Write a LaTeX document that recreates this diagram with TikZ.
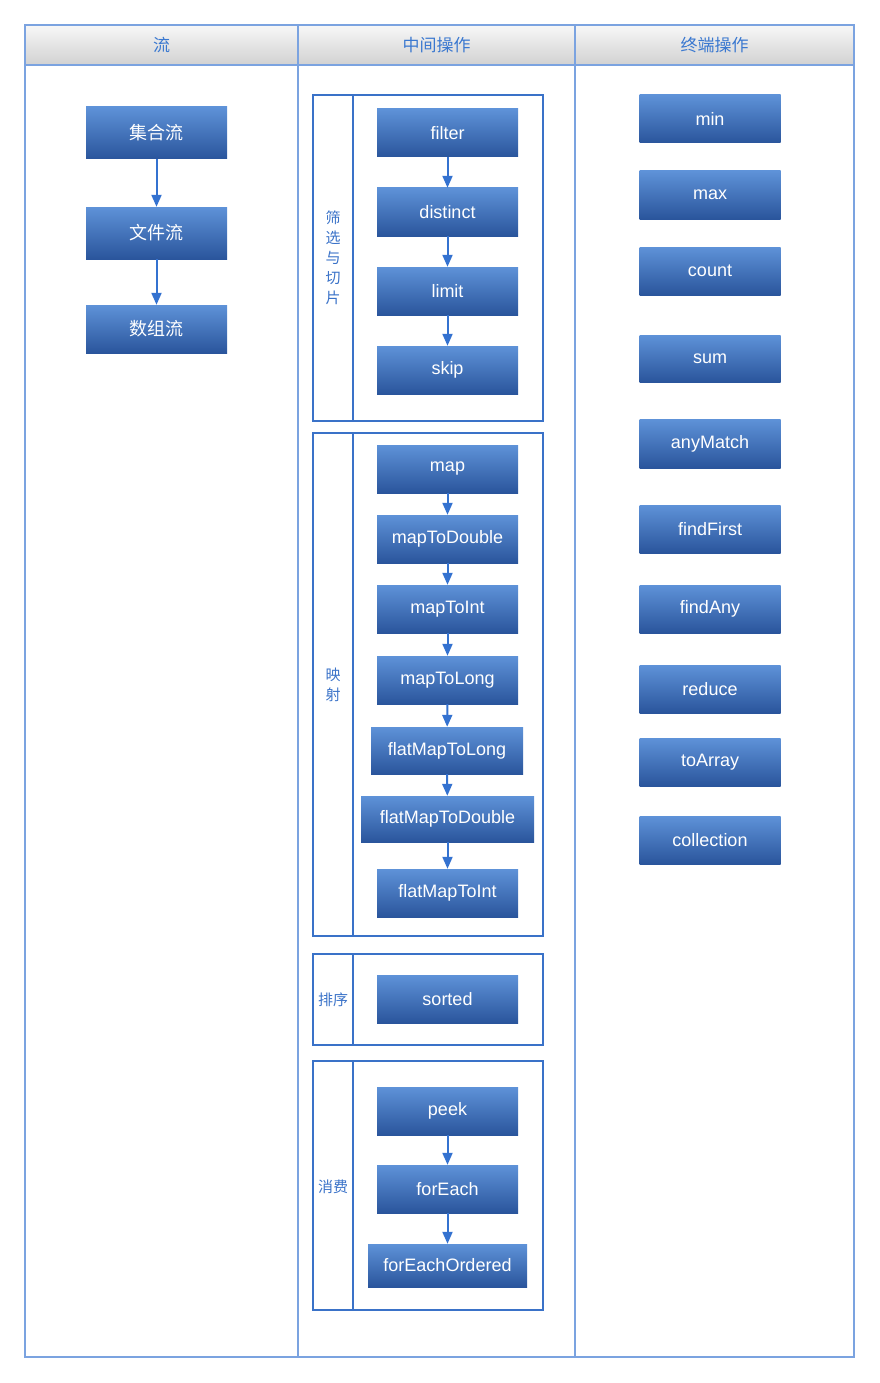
\documentclass[tikz,border=0pt]{standalone}
\usepackage{fontspec}
\setmainfont{Liberation Sans}
\newfontfamily\cjk{Noto Sans CJK SC}
\usetikzlibrary{arrows.meta}
\definecolor{lane}{HTML}{7BA3E0}
\definecolor{grp}{HTML}{3A72C8}
\definecolor{ntop}{HTML}{5E92D8}
\definecolor{nbot}{HTML}{2A559C}
\definecolor{htxt}{HTML}{3A78D0}
\definecolor{arr}{HTML}{3472D0}
\tikzset{
  proc/.style={top color=ntop, bottom color=nbot, text=white, inner sep=0pt,
    minimum width=141pt, minimum height=48pt, font=\fontsize{18}{21}\selectfont},
  hdr/.style={top color=white!97!black, bottom color=white!82!black, draw=lane, line width=1.6pt},
  hdrtxt/.style={text=htxt, font=\cjk\fontsize{17}{19}\selectfont},
  grpbox/.style={draw=grp, line width=2pt},
  glabel/.style={text=grp, font=\cjk\fontsize{15}{20}\selectfont, align=center, inner sep=0pt},
  flow/.style={draw=arr, line width=2pt, -{Triangle[length=12pt,width=10pt]}},
}
\begin{document}
\begin{tikzpicture}[x=1pt,y=-1pt]
\useasboundingbox (0,0) rectangle (879,1383);
% lanes
\draw[draw=lane, line width=1.6pt] (25,25) rectangle (854,1357);
\draw[hdr] (25,25) rectangle (298,65);
\draw[hdr] (298,25) rectangle (575,65);
\draw[hdr] (575,25) rectangle (854,65);
\draw[draw=lane, line width=1.6pt] (298,65) -- (298,1357);
\draw[draw=lane, line width=1.6pt] (575,65) -- (575,1357);
\node[hdrtxt] (h1) at (161.5,45) {流};
\node[hdrtxt] (h2) at (436.5,45) {中间操作};
\node[hdrtxt] (h3) at (714.5,45) {终端操作};

% column 1
\node[proc, minimum height=52pt] (s1) at (156.5,133) {\cjk 集合流};
\node[proc, minimum height=52pt] (s2) at (156.5,233) {\cjk 文件流};
\node[proc] (s3) at (156.5,329) {\cjk 数组流};
\draw[flow] (s1) -- (s2);
\draw[flow] (s2) -- (s3);

% group boxes
\draw[grpbox] (313,95) rectangle (543,421);
\draw[grpbox] (353,95) -- (353,421);
\draw[grpbox] (313,433) rectangle (543,936);
\draw[grpbox] (353,433) -- (353,936);
\draw[grpbox] (313,954) rectangle (543,1045);
\draw[grpbox] (353,954) -- (353,1045);
\draw[grpbox] (313,1061) rectangle (543,1310);
\draw[grpbox] (353,1061) -- (353,1310);
\node[glabel] (g1) at (333,258) {筛\\选\\与\\切\\片};
\node[glabel] (g2) at (333,685) {映\\射};
\node[glabel] (g3) at (333,1000) {排序};
\node[glabel] (g4) at (333,1187) {消费};

% group 1
\node[proc] (f1) at (447.5,133) {filter};
\node[proc] (f2) at (447.5,212) {distinct};
\node[proc] (f3) at (447.5,291) {limit};
\node[proc] (f4) at (447.5,370) {skip};
\draw[flow] (f1) -- (f2);
\draw[flow] (f2) -- (f3);
\draw[flow] (f3) -- (f4);

% group 2
\node[proc] (m1) at (447.5,469) {map};
\node[proc] (m2) at (447.5,539) {mapToDouble};
\node[proc] (m3) at (447.5,609) {mapToInt};
\node[proc] (m4) at (447.5,680) {mapToLong};
\node[proc, minimum width=152pt, minimum height=47pt] (m5) at (447,750.5) {flatMapToLong};
\node[proc, minimum width=173pt, minimum height=46pt] (m6) at (447.5,819) {flatMapToDouble};
\node[proc] (m7) at (447.5,893) {flatMapToInt};
\draw[flow] (m1) -- (m2);
\draw[flow] (m2) -- (m3);
\draw[flow] (m3) -- (m4);
\draw[flow] (m4) -- (m5);
\draw[flow] (m5) -- (m6);
\draw[flow] (m6) -- (m7);

% group 3
\node[proc] (o1) at (447.5,999) {sorted};

% group 4
\node[proc] (c1) at (447.5,1111) {peek};
\node[proc] (c2) at (447.5,1189) {forEach};
\node[proc, minimum width=159pt, minimum height=43pt] (c3) at (447.5,1265.5) {forEachOrdered};
\draw[flow] (c1) -- (c2);
\draw[flow] (c2) -- (c3);

% column 3
\node[proc] (t1) at (710,119) {min};
\node[proc] (t2) at (710,195) {max};
\node[proc] (t3) at (710,271) {count};
\node[proc, minimum height=47pt] (t4) at (710,358.5) {sum};
\node[proc, minimum height=49pt] (t5) at (710,443.5) {anyMatch};
\node[proc] (t6) at (710,529) {findFirst};
\node[proc] (t7) at (710,609) {findAny};
\node[proc] (t8) at (710,689) {reduce};
\node[proc] (t9) at (710,762) {toArray};
\node[proc] (t10) at (710,840) {collection};
\end{tikzpicture}
\end{document}
